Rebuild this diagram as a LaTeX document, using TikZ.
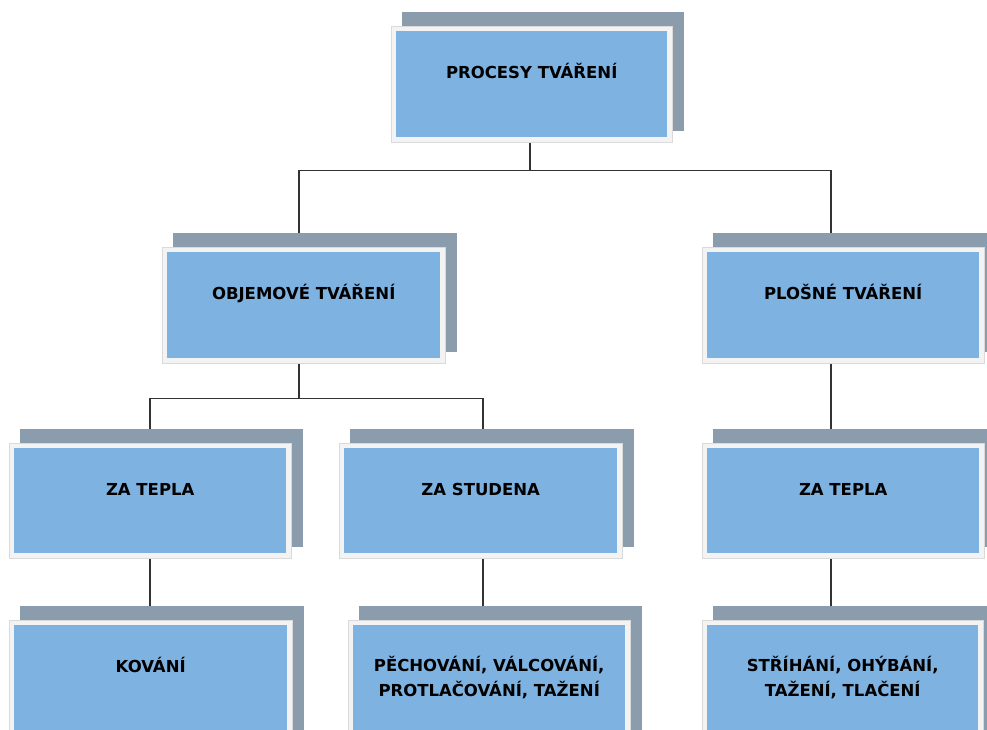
\documentclass[tikz,border=0pt]{standalone}
\usepackage{fontspec}
\newfontfamily\lblfamily{DejaVu Sans}
\usetikzlibrary{backgrounds}
\definecolor{boxblue}{RGB}{126,178,225}
\definecolor{shadowgray}{RGB}{139,156,172}
\definecolor{framegray}{RGB}{243,243,243}
\definecolor{frameedge}{RGB}{218,218,218}
\tikzset{
  shadowbox/.style={fill=shadowgray, draw=none},
  framebox/.style={fill=framegray, draw=frameedge, line width=0.6pt},
  bluebox/.style={fill=boxblue, draw=none, inner sep=0pt},
  lbl/.style={font=\lblfamily\bfseries\fontsize{16.5pt}{25pt}\selectfont, align=center, inner sep=0pt, text=black},
  lblone/.style={lbl, text height=12pt, text depth=0pt},
  conn/.style={draw=black!80, line width=1.7pt}
}
% \tbox{name}{x1}{y1}{x2}{y2}
\newcommand{\tbox}[5]{%
  \fill[shadowbox] (#2+6,#3-19) rectangle (#4+17,#5-6);
  \filldraw[framebox] (#2-5,#3-5) rectangle (#4+5,#5+5);
  \node[bluebox, anchor=north west, minimum width={(#4-#2)*1pt}, minimum height={(#5-#3)*1pt}] (#1) at (#2,#3) {};
}
\begin{document}
\begin{tikzpicture}[x=1pt,y=-1pt]
\useasboundingbox (0,0) rectangle (987,729);
\clip (0,0) rectangle (987,729);

\tbox{P}{396}{31}{667}{137}
\node[lblone] (Pt) at ([yshift=-41pt]P.north) {PROCESY TVÁŘENÍ};

\tbox{O}{167}{252}{440}{358}
\node[lblone] (Ot) at ([yshift=-41pt]O.north) {OBJEMOVÉ TVÁŘENÍ};

\tbox{R}{707}{252}{979}{358}
\node[lblone] (Rt) at ([yshift=-41pt]R.north) {PLOŠNÉ TVÁŘENÍ};

\tbox{ZL}{14}{448}{286}{553}
\node[lblone] (ZLt) at ([yshift=-41pt]ZL.north) {ZA TEPLA};

\tbox{ZS}{344}{448}{617}{553}
\node[lblone] (ZSt) at ([yshift=-41pt]ZS.north) {ZA STUDENA};

\tbox{ZR}{707}{448}{979}{553}
\node[lblone] (ZRt) at ([yshift=-41pt]ZR.north) {ZA TEPLA};

\tbox{K}{14}{625}{287}{745}
\node[lblone] (Kt) at ([yshift=-41pt]K.north) {KOVÁNÍ};

\tbox{PV}{353}{625}{625}{745}
\node[lbl] (PVt) at ([yshift=-52.5pt]PV.north) {PĚCHOVÁNÍ, VÁLCOVÁNÍ,\\PROTLAČOVÁNÍ, TAŽENÍ};

\tbox{ST}{707}{625}{978}{745}
\node[lbl] (STt) at ([yshift=-52.5pt]ST.north) {STŘÍHÁNÍ, OHÝBÁNÍ,\\TAŽENÍ, TLAČENÍ};

\begin{pgfonlayer}{background}
\fill[white] (0,0) rectangle (987,729);
\draw[conn] ([xshift=-1.5pt]P.south) -- ++(0,33) -| ([xshift=-4.5pt]O.north);
\draw[conn] ([xshift=-1.5pt]P.south) -- ++(0,33) -| ([xshift=-12pt]R.north);
\draw[conn] ([xshift=-4.5pt]O.south) -- ++(0,40) -| (ZL.north);
\draw[conn] ([xshift=-4.5pt]O.south) -- ++(0,40) -| ([xshift=2.5pt]ZS.north);
\draw[conn] ([xshift=-12pt]R.south) -- ([xshift=-12pt]ZR.north);
\draw[conn] (ZL.south) -- (ZL.south |- K.north);
\draw[conn] ([xshift=2.5pt]ZS.south) -- ([xshift=2.5pt]ZS.south |- PV.north);
\draw[conn] ([xshift=-12pt]ZR.south) -- ([xshift=-12pt]ZR.south |- ST.north);
\end{pgfonlayer}
\end{tikzpicture}
\end{document}
